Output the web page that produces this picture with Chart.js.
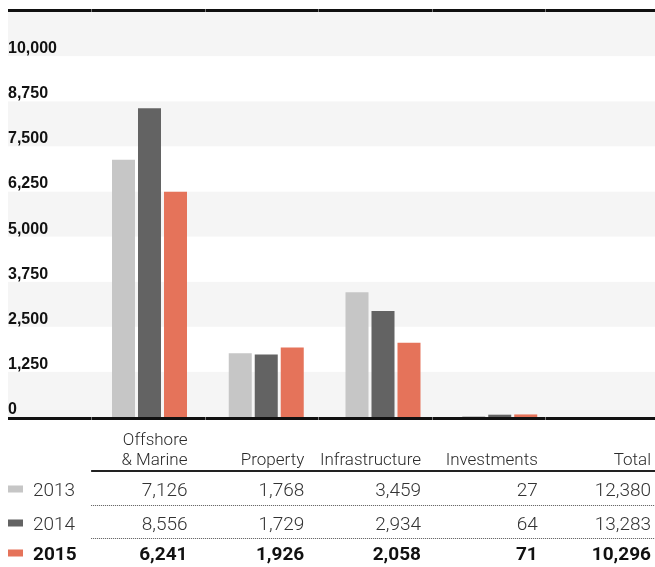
<!DOCTYPE html>
<html>
<head>
<meta charset="utf-8">
<script src="https://cdn.jsdelivr.net/npm/chart.js@4"></script>
<style>
  html, body { margin: 0; padding: 0; background: #fff; }
  #wrap { width: 655px; height: 567px; }
</style>
</head>
<body>
<div id="wrap"><canvas id="chart" width="655" height="567"></canvas></div>
<script>
// categories (multi-line header) and series
const categories = [['Offshore', '& Marine'], 'Property', 'Infrastructure', 'Investments', 'Total'];
const years = ['2013', '2014', '2015'];
const values2013 = [7126, 1768, 3459, 27];
const values2014 = [8556, 1729, 2934, 64];
const values2015 = [6241, 1926, 2058, 71];
const totals = [12380, 13283, 10296];
const yTicks = [0, 1250, 2500, 3750, 5000, 6250, 7500, 8750, 10000];
const yMax = 11250;

const colors = ['#c6c6c6', '#636363', '#e5735a'];
const seriesValues = [values2013, values2014, values2015];

const fmt = v => v.toLocaleString('en-US');

// bars for the four segments, nothing in the Total column
let datasets = years.map((y, i) => ({
  label: y,
  data: seriesValues[i].concat([null]),
  backgroundColor: colors[i],
  borderWidth: 0,
  clip: false
}));

let tablePlugin = {
  id: 'tablePlugin',
  beforeDatasetsDraw(chart) {
    let c = chart.ctx;
    let ys = chart.scales.y;
    c.save();
    // alternating bands
    let step = 1250;
    for (let v = 0, k = 0; v < yMax; v += step, k++) {
      let top = ys.getPixelForValue(v + step);
      let bot = ys.getPixelForValue(v);
      c.fillStyle = k % 2 === 0 ? '#f5f5f5' : '#ffffff';
      c.fillRect(8, top, 647, bot - top);
    }
    // tick labels sit just above their gridline
    c.fillStyle = '#111';
    c.font = 'bold 16px "Liberation Sans", Arial, sans-serif';
    c.textAlign = 'left';
    c.textBaseline = 'alphabetic';
    yTicks.forEach(t => {
      c.fillText(fmt(t), 8, ys.getPixelForValue(t) - 3);
    });
    c.restore();
  },
  afterDatasetsDraw(chart) {
    let c = chart.ctx;
    let xs = chart.scales.x;
    let ys = chart.scales.y;
    let centers = categories.map((_, i) => xs.getPixelForValue(i));
    let half = (centers[1] - centers[0]) / 2;
    let left = centers[0] - half;
    let bounds = categories.map((_, i) => left + i * 113.5);
    let rightOf = i => Math.min(centers[i] + 38, 651);
    c.save();

    // top rule and base line
    let base = ys.getPixelForValue(0);
    c.fillStyle = '#111';
    c.fillRect(8, 9, 647, 3);
    c.fillRect(8, base, 647, 3);
    c.fillStyle = '#777';
    bounds.forEach(b => {
      c.fillRect(Math.round(b), 9, 1, 3);
      c.fillRect(Math.round(b), base, 1, 3);
    });

    // header
    c.fillStyle = '#2a2a2a';
    c.font = '300 17px Roboto, sans-serif';
    c.textAlign = 'right';
    categories.forEach((lab, i) => {
      let lines = Array.isArray(lab) ? lab : [lab];
      let b = 465 - (lines.length - 1) * 20;
      lines.forEach((ln, j) => c.fillText(ln, rightOf(i), b + j * 20));
    });
    c.fillStyle = '#222';
    c.fillRect(left, 470, 655 - left, 2);

    // dotted separators
    c.strokeStyle = '#555';
    c.lineWidth = 1;
    c.setLineDash([1, 1]);
    [505.5, 538.5].forEach(y => {
      c.beginPath();
      c.moveTo(left, y);
      c.lineTo(655, y);
      c.stroke();
    });
    c.setLineDash([]);

    // rows
    let baselines = [496, 530, 560];
    years.forEach((yr, r) => {
      let bold = r === years.length - 1;
      let b = baselines[r];
      c.fillStyle = colors[r];
      c.fillRect(8, b - 10.5, 15, 7);
      c.fillStyle = bold ? '#111' : '#333';
      c.font = (bold ? 'bold ' : '300 ') + '19px Roboto, sans-serif';
      c.textAlign = 'left';
      c.fillText(yr, 33, b);
      c.textAlign = 'right';
      let row = seriesValues[r].concat([totals[r]]);
      row.forEach((v, i) => c.fillText(fmt(v), rightOf(i), b));
    });
    c.restore();
  }
};

let chart = new Chart(document.getElementById('chart').getContext('2d'), {
  type: 'bar',
  data: { labels: categories, datasets: datasets },
  options: {
    responsive: false,
    animation: false,
    events: [],
    layout: { padding: { left: 149.5, right: 38.5, top: 11, bottom: 150 } },
    categoryPercentage: 0.668,
    barPercentage: 0.885,
    scales: {
      x: { display: false, offset: false, grid: { display: false } },
      y: { display: false, min: 0, max: yMax, ticks: { stepSize: 1250 } }
    },
    plugins: {
      legend: { display: false },
      tooltip: { enabled: false }
    }
  },
  plugins: [tablePlugin]
});
</script>
</body>
</html>
